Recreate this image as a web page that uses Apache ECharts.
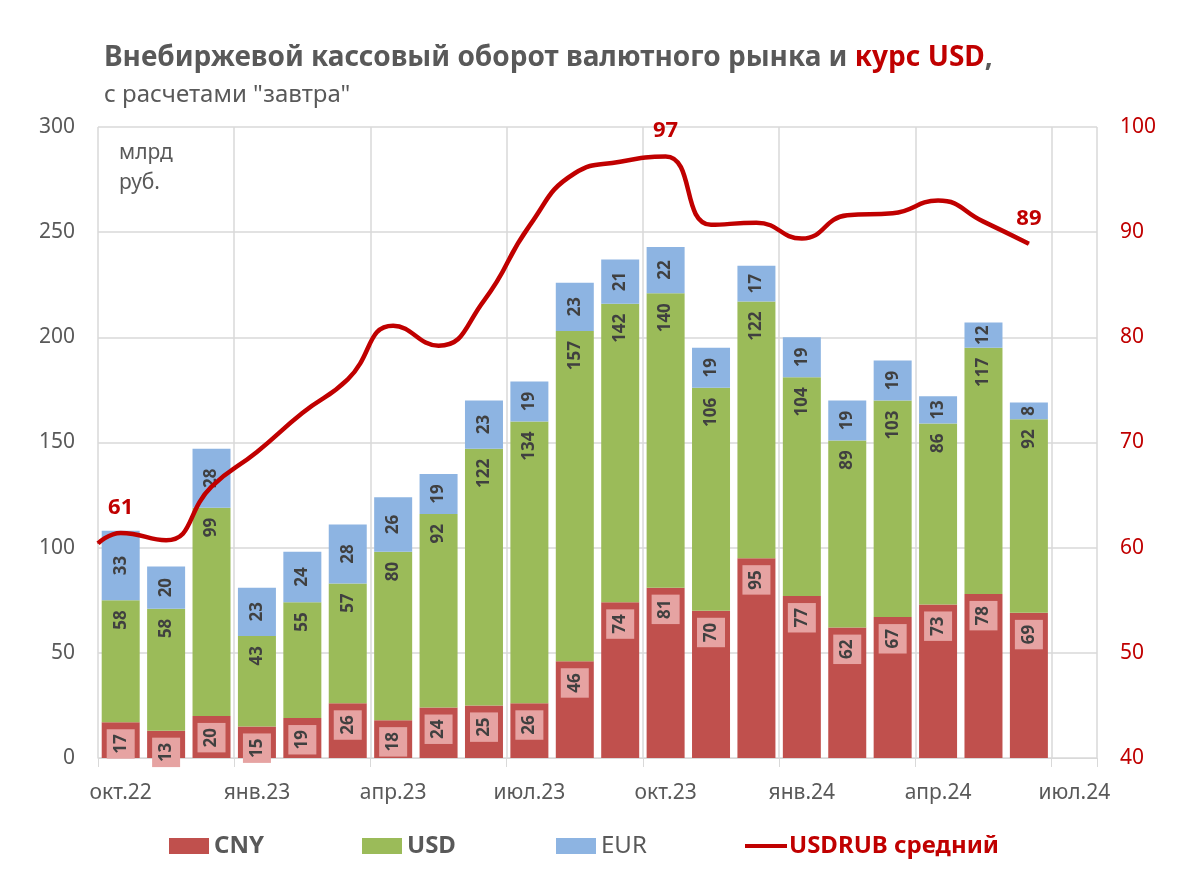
<!DOCTYPE html>
<html>
<head>
<meta charset="utf-8">
<script src="https://cdn.jsdelivr.net/npm/echarts@6/dist/echarts.min.js"></script>
<style>
html,body{margin:0;padding:0;background:#fff;}
#c{width:1183px;height:888px;}
</style>
</head>
<body>
<div id="c"></div>
<script>
const categories = ['окт.22','ноя.22','дек.22','янв.23','фев.23','мар.23','апр.23','май.23','июн.23','июл.23','авг.23','сен.23','окт.23','ноя.23','дек.23','янв.24','фев.24','мар.24','апр.24','май.24','июн.24','июл.24'];
const cny = [17,13,20,15,19,26,18,24,25,26,46,74,81,70,95,77,62,67,73,78,69];
const usd = [58,58,99,43,55,57,80,92,122,134,157,142,140,106,122,104,89,103,86,117,92];
const eur = [33,20,28,23,24,28,26,19,23,19,23,21,22,19,17,19,19,19,13,12,8];
// USDRUB monthly average (month index on a continuous scale; first point = start of Oct 22)
const rubX = [0,0.5,1.5,2.5,3.5,4.5,5.5,6.5,7.5,8.5,9.5,10.5,11.5,12.5,13.5,14.5,15.5,16.5,17.5,18.5,19.5,20.5];
const rubVal = [60.4,61.4,60.7,65.8,69.1,72.8,76.0,81.1,79.2,83.5,90.6,95.6,96.7,97.2,90.7,90.9,89.4,91.6,91.8,93.0,91.0,88.9];
const rubLabelIdx = [1,13,21];
const leftTicks = {min:0,max:300,interval:50};
const rightTicks = {min:40,max:100,interval:10};

const FONT = '"Noto Sans", "Open Sans", sans-serif';
const GRAY = '#595959';
const DARKRED = '#C00000';
const LBL = '#404040';

const chart = echarts.init(document.getElementById('c'));

const rubData = rubX.map((x,i)=>{
  const item = {value:[x, rubVal[i]]};
  if (rubLabelIdx.includes(i)) {
    item.label = {show:true, position:'top', distance:14, formatter: p => String(Math.round(p.value[1])),
      fontSize:22, fontWeight:'bold', color:DARKRED, fontFamily:FONT};
  }
  return item;
});

const legendBase = {orient:'horizontal', padding:0, itemWidth:40, itemHeight:16, top:834,
  textStyle:{fontSize:24, fontFamily:FONT, color:GRAY, fontWeight:'bold'}, icon:'rect', selectedMode:false};

chart.setOption({
  backgroundColor:'#fff',
  animation:false,
  textStyle:{fontFamily:FONT},
  title:[
    {text:'{a|Внебиржевой кассовый оборот валютного рынка и }{b|курс USD}{a|,}', left:104, top:44, padding:0,
      textStyle:{rich:{
        a:{fontSize:28, fontWeight:'bold', color:GRAY, fontFamily:FONT},
        b:{fontSize:28, fontWeight:'bold', color:DARKRED, fontFamily:FONT}}}},
    {text:'с расчетами "завтра"', left:104, top:83, padding:0,
      textStyle:{fontSize:24, fontWeight:'normal', color:GRAY, fontFamily:FONT}}
  ],
  graphic:[{type:'text', left:119, top:138, style:{text:'млрд\nруб.', fontSize:21, lineHeight:30, fill:GRAY, fontFamily:FONT}}],
  legend:[
    Object.assign({}, legendBase, {left:169, data:['CNY']}),
    Object.assign({}, legendBase, {left:362, data:['USD']}),
    Object.assign({}, legendBase, {left:556, data:['EUR'], textStyle:Object.assign({}, legendBase.textStyle, {fontWeight:'normal'})}),
    Object.assign({}, legendBase, {left:745, itemWidth:42, data:[{name:'USDRUB средний', icon:'rect', itemStyle:{color:DARKRED}}],
      itemHeight:4, textStyle:Object.assign({}, legendBase.textStyle, {color:DARKRED, padding:[0,0,0,-3]})})
  ],
  grid:{left:98, right:86, top:127, bottom:130, containLabel:false},
  xAxis:[
    {type:'category', data:categories, boundaryGap:true,
      axisLine:{show:true, lineStyle:{color:'#D9D9D9', width:1}},
      axisTick:{show:true, interval:2, length:9, lineStyle:{color:'#D9D9D9'}},
      splitLine:{show:true, interval:2, lineStyle:{color:'#D9D9D9', width:1.5}},
      axisLabel:{interval:2, color:GRAY, fontSize:21, margin:25, fontFamily:FONT}},
    {type:'value', min:0, max:22, show:false}
  ],
  yAxis:[
    {type:'value', min:leftTicks.min, max:leftTicks.max, interval:leftTicks.interval,
      axisLine:{show:false}, axisTick:{show:false},
      splitLine:{show:true, lineStyle:{color:'#D9D9D9', width:1.5}},
      axisLabel:{color:GRAY, fontSize:21, margin:23, fontFamily:FONT}},
    {type:'value', min:rightTicks.min, max:rightTicks.max, interval:rightTicks.interval,
      axisLine:{show:false}, axisTick:{show:false}, splitLine:{show:false},
      axisLabel:{color:DARKRED, fontSize:21, margin:23, fontFamily:FONT}}
  ],
  series:[
    {name:'CNY', type:'bar', stack:'t', data:cny, barWidth:38, itemStyle:{color:'#C0504D'},
      label:{show:true, position:['50%',7], rotate:90, align:'right', verticalAlign:'middle',
        fontSize:17, fontWeight:'bold', color:LBL, backgroundColor:'#E6A3A2', padding:[6,5,6,5], lineHeight:16, fontFamily:FONT}},
    {name:'USD', type:'bar', stack:'t', data:usd, barWidth:38, itemStyle:{color:'#9BBB59'},
      label:{show:true, position:['50%',10], rotate:90, align:'right', verticalAlign:'middle',
        fontSize:17, fontWeight:'bold', color:LBL, fontFamily:FONT}},
    {name:'EUR', type:'bar', stack:'t', data:eur, barWidth:38, itemStyle:{color:'#8DB4E2'},
      label:{show:true, position:'inside', rotate:90, align:'center', verticalAlign:'middle',
        fontSize:17, fontWeight:'bold', color:LBL, fontFamily:FONT}},
    {name:'USDRUB средний', type:'line', xAxisIndex:1, yAxisIndex:1, data:rubData, smooth:0.5,
      symbol:'circle', symbolSize:1, showSymbol:true, showAllSymbol:true,
      lineStyle:{color:DARKRED, width:4.5}, itemStyle:{color:DARKRED}, z:5}
  ]
});
</script>
</body>
</html>
